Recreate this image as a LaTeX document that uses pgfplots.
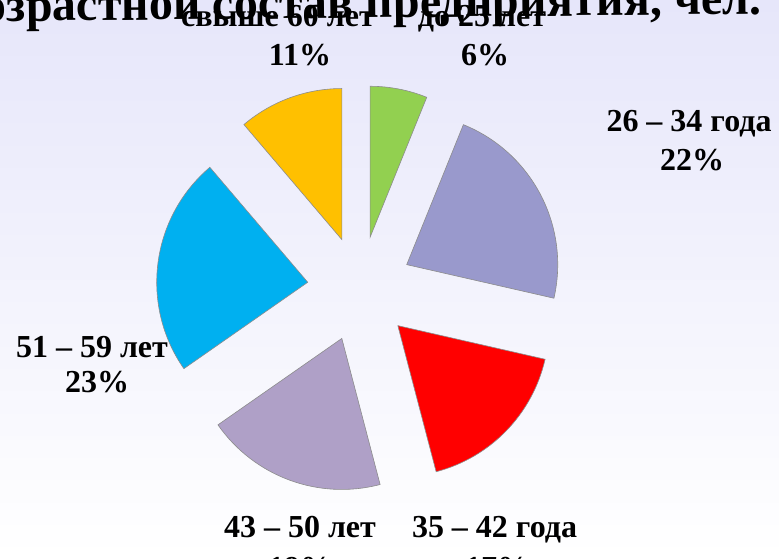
\documentclass[border=0pt]{standalone}
\usepackage{fontspec}
\setmainfont{Liberation Serif}
\usepackage{pgfplots}
\pgfplotsset{compat=1.18}
\definecolor{cA}{HTML}{92D050}
\definecolor{cB}{HTML}{9999CC}
\definecolor{cC}{HTML}{FF0000}
\definecolor{cD}{HTML}{AFA0C7}
\definecolor{cE}{HTML}{00B0F0}
\definecolor{cF}{HTML}{FFC000}
\definecolor{slicegray}{HTML}{8C8C8C}
\definecolor{bgtop}{HTML}{E6E6FA}
\newcommand\labfont{\fontsize{32}{36}\selectfont\bfseries}
\begin{document}
\begin{tikzpicture}
\useasboundingbox (0,0) rectangle (779pt,558pt);
\clip (0,0) rectangle (779pt,558pt);
\shade[top color=bgtop, bottom color=white] (0,0) rectangle (779pt,558pt);
% slice values (percent): до 25, 26-34, 35-42, 43-50, 51-59, свыше 60
\gdef\cum{0}
\gdef\slices{}
\foreach \v/\col in {6/cA,22/cB,17/cC,19/cD,23/cE,11/cF}{
  \pgfmathsetmacro\aS{90-\cum/98*360}
  \pgfmathsetmacro\aE{90-(\cum+\v)/98*360}
  \pgfmathsetmacro\aM{(\aS+\aE)/2}
  \pgfmathsetmacro\cx{360+52.7*cos(\aM)}
  \pgfmathsetmacro\cy{269+52.7*sin(\aM)}
  \xdef\slices{\unexpanded\expandafter{\slices}\noexpand\draw[fill=\col,draw=slicegray,line width=0.6pt] (axis cs:\cx,\cy) -- ++(\aS:151pt) arc[start angle=\aS,end angle=\aE,radius=151pt] -- cycle;}
  \pgfmathsetmacro\newcum{\cum+\v}
  \xdef\cum{\newcum}
}
\begin{axis}[at={(0,0)}, anchor=south west, scale only axis,
  width=779pt, height=558pt, xmin=0, xmax=779, ymin=0, ymax=558,
  hide axis, clip=false]
\slices
\node[font=\fontsize{48}{50}\selectfont\bfseries, anchor=base east, rotate=0.55] at (axis cs:765,544) {Возрастной состав предприятия, чел.};
\node[font=\labfont, anchor=base] at (axis cs:278,531) {свыше 60 лет};
\node[font=\labfont, anchor=base] at (axis cs:300,492) {11\%};
\node[font=\labfont, anchor=base] at (axis cs:482,531) {до 25 лет};
\node[font=\labfont, anchor=base] at (axis cs:485,492) {6\%};
\node[font=\labfont, anchor=base] at (axis cs:689,426) {26 – 34 года};
\node[font=\labfont, anchor=base] at (axis cs:692,388) {22\%};
\node[font=\labfont, anchor=base] at (axis cs:92,201) {51 – 59 лет};
\node[font=\labfont, anchor=base] at (axis cs:97,166) {23\%};
\node[font=\labfont, anchor=base] at (axis cs:300,21) {43 – 50 лет};
\node[font=\labfont, anchor=base] at (axis cs:300,-20) {19\%};
\node[font=\labfont, anchor=base] at (axis cs:494.5,21) {35 – 42 года};
\node[font=\labfont, anchor=base] at (axis cs:497,-20) {17\%};
\end{axis}
\end{tikzpicture}
\end{document}
